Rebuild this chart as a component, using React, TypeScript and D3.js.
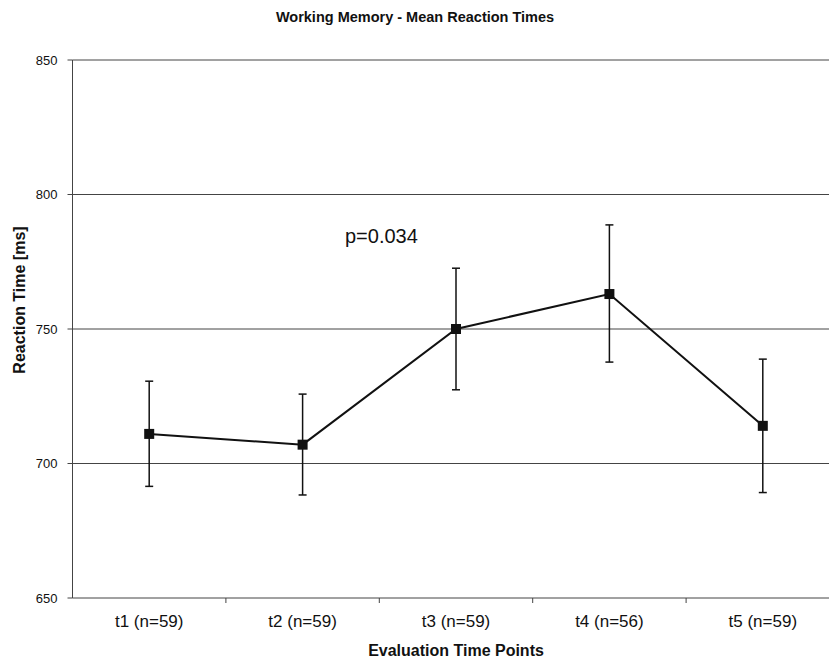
import React from "react";
import * as d3 from "d3";

const categories = ["t1 (n=59)", "t2 (n=59)", "t3 (n=59)", "t4 (n=56)", "t5 (n=59)"];
const means = [711, 707, 750, 763, 714];
const lower = [691.5, 688.3, 727.4, 737.7, 689.2];
const upper = [730.6, 725.8, 772.6, 788.7, 738.8];
const yTicks = [650, 700, 750, 800, 850];
const title = "Working Memory - Mean Reaction Times";
const xTitle = "Evaluation Time Points";
const yTitle = "Reaction Time [ms]";
const annotation = "p=0.034";

const W = 829;
const H = 665;
const left = 72.5;
const right = 839.5;
const top = 60;
const bottom = 598;

export default function App() {
  const x = d3.scaleBand<string>().domain(categories).range([left, right]).padding(0);
  const y = d3.scaleLinear().domain([650, 850]).range([bottom, top]);
  const cx = (c: string) => (x(c) as number) + x.bandwidth() / 2;
  const line = d3
    .line<number>()
    .x((_, i) => cx(categories[i]))
    .y((d) => y(d));
  const font = "'Liberation Sans', Arial, sans-serif";
  const boundaries = categories.map((c) => (x(c) as number) + x.bandwidth());
  return (
    <svg width={W} height={H} style={{ position: "absolute", left: 0, top: 0, background: "#fff" }} fontFamily={font}>
      <rect x={0} y={0} width={W} height={H} fill="#fff" />
      {/* gridlines */}
      {yTicks.filter((t) => t !== 650).map((t) => (
        <line key={"g" + t} x1={left} x2={right} y1={y(t)} y2={y(t)} stroke="#444" strokeWidth={1} />
      ))}
      {/* axes */}
      <line x1={left} x2={left} y1={top} y2={bottom} stroke="#444" strokeWidth={1} />
      <line x1={left} x2={right} y1={bottom} y2={bottom} stroke="#444" strokeWidth={1} />
      {yTicks.map((t) => (
        <g key={"yt" + t}>
          <line x1={left - 5} x2={left} y1={y(t)} y2={y(t)} stroke="#444" />
          <text x={left - 15} y={y(t)} dy="0.35em" textAnchor="end" fontSize={13} fill="#111">
            {t}
          </text>
        </g>
      ))}
      {boundaries.map((b, i) => (
        <line key={"xt" + i} x1={b} x2={b} y1={bottom} y2={bottom + 5} stroke="#444" />
      ))}
      {categories.map((c) => (
        <text key={"xl" + c} x={cx(c)} y={627} textAnchor="middle" fontSize={17} fill="#111">
          {c}
        </text>
      ))}
      {/* error bars */}
      {categories.map((c, i) => (
        <g key={"e" + c} stroke="#111" strokeWidth={1.5}>
          <line x1={cx(c)} x2={cx(c)} y1={y(upper[i])} y2={y(lower[i])} />
          <line x1={cx(c) - 4} x2={cx(c) + 4} y1={y(upper[i])} y2={y(upper[i])} />
          <line x1={cx(c) - 4} x2={cx(c) + 4} y1={y(lower[i])} y2={y(lower[i])} />
        </g>
      ))}
      <path d={line(means) || ""} fill="none" stroke="#111" strokeWidth={2} />
      {categories.map((c, i) => (
        <rect key={"m" + c} x={cx(c) - 5} y={y(means[i]) - 5} width={10} height={10} fill="#111" />
      ))}
      <text x={345} y={243} fontSize={20} fill="#111">
        {annotation}
      </text>
      <text x={415} y={22} textAnchor="middle" fontSize={14.5} fontWeight="bold" fill="#111">
        {title}
      </text>
      <text x={456} y={656} textAnchor="middle" fontSize={16} fontWeight="bold" fill="#111">
        {xTitle}
      </text>
      <text
        transform={`translate(25, ${(220 + 380) / 2}) rotate(-90)`}
        textAnchor="middle"
        fontSize={16}
        fontWeight="bold"
        fill="#111"
      >
        {yTitle}
      </text>
    </svg>
  );
}
